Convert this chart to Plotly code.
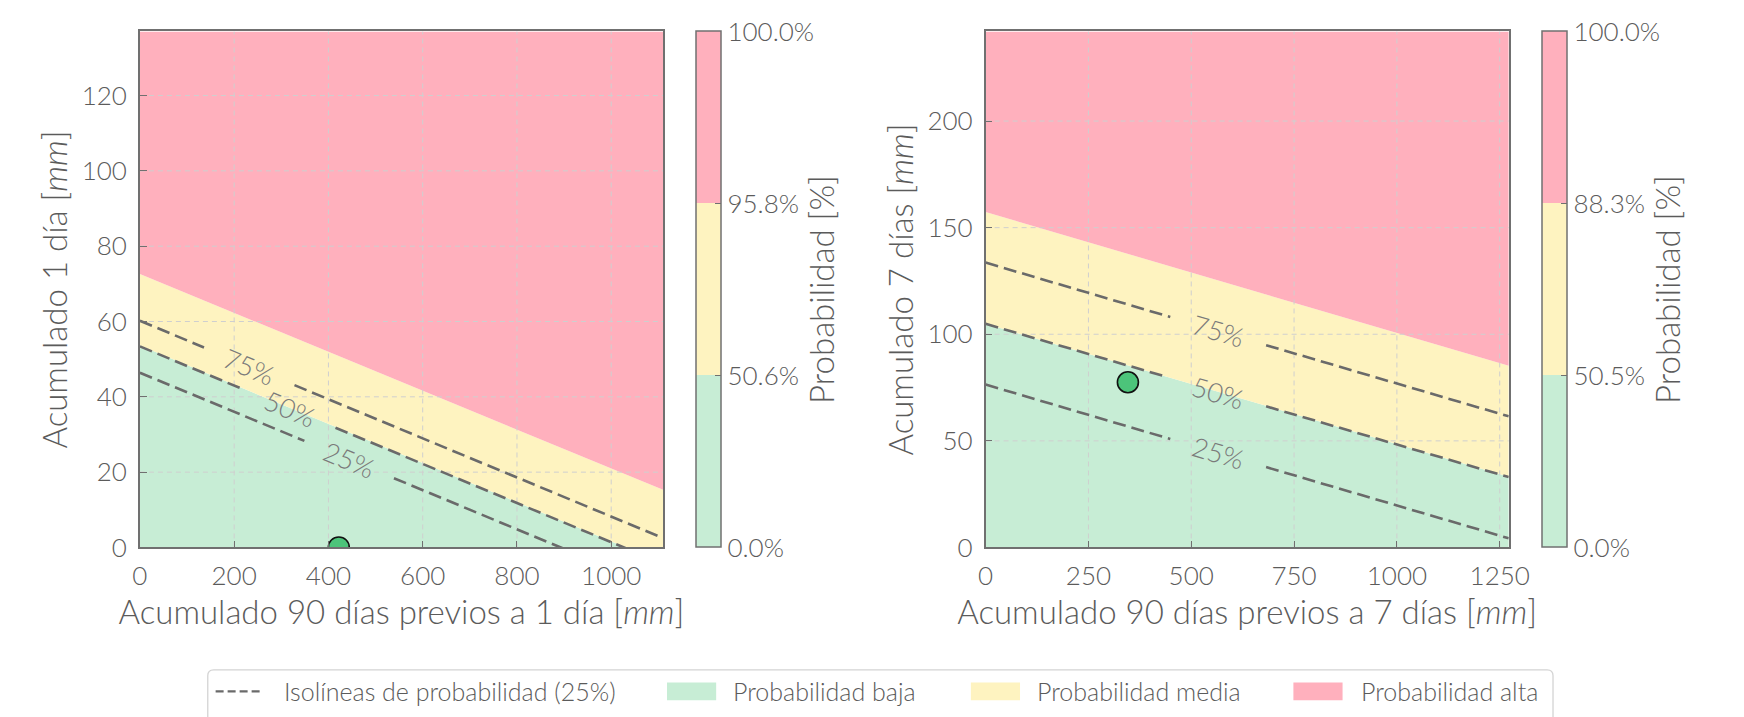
import math
import plotly.graph_objects as go

W, H = 1744, 717

# ---------------- data ----------------
iso_names = ["25%", "50%", "75%"]
zone_names = ["Probabilidad baja", "Probabilidad media", "Probabilidad alta"]
iso_legend_name = "Isolíneas de probabilidad (25%)"

# Panel 1: 1 día
p1_xrange = [0, 1110]
p1_yrange = [0, 137]
p1_xticks = [0, 200, 400, 600, 800, 1000]
p1_yticks = [0, 20, 40, 60, 80, 100, 120]
p1_cb_text = ["0.0%", "50.6%", "95.8%", "100.0%"]
p1_low_med_y = [53.6, -4.1]     # boundary y at x = 0 and x = x max
p1_med_high_y = [72.6, 15.3]
p1_iso_x = [[0, 349, 539, 1110], [0, 221, 415, 1110], [0, 136, 328, 1110]]
p1_iso_y = [[46.4, 28.3, 18.4, -11.3], [53.4, 41.9, 31.8, -4.3], [60.2, 53.1, 43.1, 2.5]]
p1_lab_x = [444, 318, 232]
p1_lab_y = [23.3, 36.9, 48.1]
p1_point_x = [422]
p1_point_y = [0]

# Panel 2: 7 días
p2_xrange = [0, 1272]
p2_yrange = [0, 242]
p2_xticks = [0, 250, 500, 750, 1000, 1250]
p2_yticks = [0, 50, 100, 150, 200]
p2_cb_text = ["0.0%", "50.5%", "88.3%", "100.0%"]
p2_low_med_y = [104.9, 33.2]
p2_med_high_y = [157.3, 85.2]
p2_iso_x = [[0, 449, 682, 1272], [0, 440, 682, 1272], [0, 449, 682, 1272]]
p2_iso_y = [[76.4, 50.9, 37.7, 4.3], [104.9, 80.0, 66.2, 33.0], [133.6, 108.1, 94.9, 61.5]]
p2_lab_x = [565, 565, 565]
p2_lab_y = [44.4, 72.9, 101.6]
p2_point_x = [346]
p2_point_y = [77.5]

# ---------------- style ----------------
GREEN = "#C7EDD5"
YELLOW = "#FEF3C0"
PINK = "#FFB0BD"
POINT = "#4CC47A"
ISO = "#6a6a6a"
GRID = "#cfcfcf"
AX = "#707070"
TXT = "#5b5b5b"
FONT = "Lato, 'Open Sans', sans-serif"
TICK_SIZE = 26
TITLE_SIZE = 33
LEG_SIZE = 25

# layout geometry (pixels)
plot_top, plot_bot = 24, 551
p1_left, p1_right = 126, 658
p2_left, p2_right = 986, 1518
cb1_left, cb2_left = 692, 1552


def ydom():
    return [(H - plot_bot) / H, (H - plot_top) / H]


def px(x):
    return x / W


def py(y):
    return 1 - y / H


fig = go.Figure()

cscale = [[0, GREEN], [1 / 3, GREEN], [1 / 3, YELLOW], [2 / 3, YELLOW], [2 / 3, PINK], [1, PINK]]


def add_panel(xa, ya, xr, yr, xticks, yticks, low_med, med_high, iso_x, iso_y,
              lab_x, lab_y, pt_x, pt_y, cb_text, cb_left, left_px, right_px):
    xs = [xr[0], xr[1]]
    # zone fills
    fig.add_trace(go.Scatter(x=xs, y=low_med, mode="lines", line=dict(width=0),
                             fill="tozeroy", fillcolor=GREEN, name=zone_names[0],
                             showlegend=False, hoverinfo="skip", xaxis=xa, yaxis=ya))
    fig.add_trace(go.Scatter(x=xs, y=med_high, mode="lines", line=dict(width=0),
                             fill="tonexty", fillcolor=YELLOW, name=zone_names[1],
                             showlegend=False, hoverinfo="skip", xaxis=xa, yaxis=ya))
    fig.add_trace(go.Scatter(x=xs, y=[yr[1], yr[1]], mode="lines", line=dict(width=0),
                             fill="tonexty", fillcolor=PINK, name=zone_names[2],
                             showlegend=False, hoverinfo="skip", xaxis=xa, yaxis=ya))
    # grid lines on top of fills
    gx, gy = [], []
    for v in xticks[1:]:
        gx += [v, v, None]
        gy += [yr[0], yr[1], None]
    for v in yticks[1:]:
        gx += [xr[0], xr[1], None]
        gy += [v, v, None]
    fig.add_trace(go.Scatter(x=gx, y=gy, mode="lines",
                             line=dict(color=GRID, width=1, dash="5px,4px"),
                             showlegend=False, hoverinfo="skip", xaxis=xa, yaxis=ya))
    # isolines (with gaps for labels)
    for i, name in enumerate(iso_names):
        x = iso_x[i]
        y = iso_y[i]
        fig.add_trace(go.Scatter(x=[x[0], x[1], None, x[2], x[3]],
                                 y=[y[0], y[1], None, y[2], y[3]],
                                 mode="lines", line=dict(color=ISO, width=2.6, dash="13px,6px"),
                                 name=iso_legend_name, showlegend=False,
                                 hoverinfo="skip", xaxis=xa, yaxis=ya))
    # labels
    ppx = (right_px - left_px) / (xr[1] - xr[0])
    ppy = (plot_bot - plot_top) / (yr[1] - yr[0])
    for i, name in enumerate(iso_names):
        x = iso_x[i]
        y = iso_y[i]
        slope = (y[0] - y[3]) / (x[3] - x[0])
        ang = math.degrees(math.atan(slope * ppy / ppx))
        fig.add_annotation(x=lab_x[i], y=lab_y[i], xref=xa, yref=ya, text=name,
                           showarrow=False, textangle=ang,
                           font=dict(family=FONT, size=27, color="#7a7a7a", weight=300))
    # observed point
    fig.add_trace(go.Scatter(x=pt_x, y=pt_y, mode="markers",
                             marker=dict(size=21, color=POINT, line=dict(color="#111111", width=1.6)),
                             cliponaxis=True, showlegend=False, hoverinfo="skip",
                             xaxis=xa, yaxis=ya))
    # colorbar carrier (invisible marker)
    fig.add_trace(go.Scatter(x=pt_x, y=pt_y, mode="markers",
                             marker=dict(size=1, opacity=0, color=[0], cmin=0, cmax=3,
                                         colorscale=cscale, showscale=True,
                                         colorbar=dict(
                                             x=cb_left / W, xanchor="left", xpad=0,
                                             y=1 - (plot_top + plot_bot) / 2 / H, yanchor="middle",
                                             len=(plot_bot - plot_top) / H, lenmode="fraction", ypad=0,
                                             thickness=25, thicknessmode="pixels",
                                             outlinecolor=AX, outlinewidth=1.5,
                                             tickvals=[0, 1, 2, 3], ticktext=cb_text,
                                             ticks="inside", ticklen=6, tickcolor=AX,
                                             tickfont=dict(family=FONT, size=TICK_SIZE, color=TXT, weight=300),
                                             title=dict(text="Probabilidad [%]", side="right",
                                                        font=dict(family=FONT, size=TITLE_SIZE, color=TXT, weight=300)),
                                         )),
                             showlegend=False, hoverinfo="skip", xaxis=xa, yaxis=ya))


add_panel("x", "y", p1_xrange, p1_yrange, p1_xticks, p1_yticks, p1_low_med_y, p1_med_high_y,
          p1_iso_x, p1_iso_y, p1_lab_x, p1_lab_y, p1_point_x, p1_point_y, p1_cb_text,
          cb1_left, p1_left, p1_right)
add_panel("x2", "y2", p2_xrange, p2_yrange, p2_xticks, p2_yticks, p2_low_med_y, p2_med_high_y,
          p2_iso_x, p2_iso_y, p2_lab_x, p2_lab_y, p2_point_x, p2_point_y, p2_cb_text,
          cb2_left, p2_left, p2_right)

# ---------------- legend (drawn below the panels) ----------------
leg_x0, leg_x1, leg_top, leg_bot, r = 195, 1563, 676, 730, 6
leg_path = (f"M {px(leg_x0)},{py(leg_bot)} L {px(leg_x0)},{py(leg_top + r)} "
            f"Q {px(leg_x0)},{py(leg_top)} {px(leg_x0 + r)},{py(leg_top)} "
            f"L {px(leg_x1 - r)},{py(leg_top)} Q {px(leg_x1)},{py(leg_top)} {px(leg_x1)},{py(leg_top + r)} "
            f"L {px(leg_x1)},{py(leg_bot)}")
shapes = [dict(type="path", xref="paper", yref="paper", path=leg_path,
               line=dict(color="#d4d4d4", width=1.3), fillcolor="white", layer="above")]
leg_cy = 698
# isoline sample
shapes.append(dict(type="line", xref="paper", yref="paper",
                   x0=px(203), x1=px(250), y0=py(leg_cy), y1=py(leg_cy),
                   line=dict(color=ISO, width=2.3, dash="8px,4px"), layer="above"))
box_x = [662, 971, 1299]
for bx, col in zip(box_x, [GREEN, YELLOW, PINK]):
    shapes.append(dict(type="rect", xref="paper", yref="paper",
                       x0=px(bx), x1=px(bx + 50), y0=py(leg_cy + 9), y1=py(leg_cy - 9),
                       fillcolor=col, line=dict(width=0), layer="above"))
text_x = [270, 727, 1036, 1366]
texts = [iso_legend_name] + zone_names
for tx, t in zip(text_x, texts):
    fig.add_annotation(x=px(tx), y=py(leg_cy), xref="paper", yref="paper", text=t,
                       xanchor="left", yanchor="middle", showarrow=False,
                       font=dict(family=FONT, size=LEG_SIZE, color=TXT, weight=300))

axis_common = dict(showline=True, mirror=True, linecolor=AX, linewidth=1.5,
                   ticks="inside", ticklen=7, tickcolor=AX, tickwidth=1.2,
                   showgrid=False, zeroline=False,
                   tickfont=dict(family=FONT, size=TICK_SIZE, color=TXT, weight=300))
title_font = dict(family=FONT, size=TITLE_SIZE, color=TXT, weight=300)

fig.update_layout(
    width=W, height=H,
    margin=dict(l=0, r=0, t=0, b=0),
    paper_bgcolor="white", plot_bgcolor="white",
    font=dict(family=FONT, color=TXT),
    shapes=shapes,
    showlegend=False,
    xaxis=dict(domain=[p1_left / W, p1_right / W], range=p1_xrange, tickvals=p1_xticks,
               anchor="y", ticklabelstandoff=5,
               title=dict(text="Acumulado 90 días previos a 1 día [<i>mm</i>]", font=title_font, standoff=5),
               **axis_common),
    yaxis=dict(domain=ydom(), range=p1_yrange, tickvals=p1_yticks, anchor="x", ticklabelstandoff=6,
               title=dict(text="Acumulado 1 día [<i>mm</i>]", font=title_font, standoff=4),
               **axis_common),
    xaxis2=dict(domain=[p2_left / W, p2_right / W], range=p2_xrange, tickvals=p2_xticks,
                anchor="y2", ticklabelstandoff=5,
                title=dict(text="Acumulado 90 días previos a 7 días [<i>mm</i>]", font=title_font, standoff=5),
                **axis_common),
    yaxis2=dict(domain=ydom(), range=p2_yrange, tickvals=p2_yticks, anchor="x2", ticklabelstandoff=6,
                title=dict(text="Acumulado 7 días [<i>mm</i>]", font=title_font, standoff=4),
                **axis_common),
)

fig.write_html("out.html")
